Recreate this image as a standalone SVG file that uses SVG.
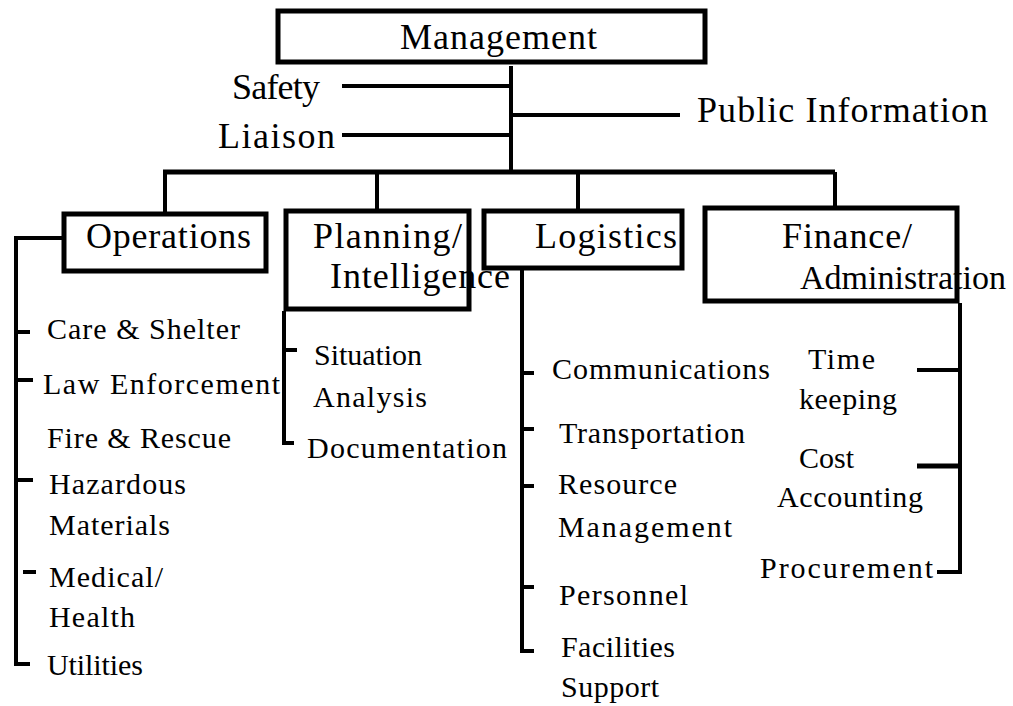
<svg xmlns="http://www.w3.org/2000/svg" width="1013" height="706" viewBox="0 0 1013 706">
<style>
  .box { fill: #fff; stroke: #000; stroke-width: 5; }
  .t1 { font-family: "Liberation Serif", "Times New Roman", serif; font-size: 36px; fill: #000; }
  .t2 { font-family: "Liberation Serif", "Times New Roman", serif; font-size: 30px; fill: #000; }
  .c { fill: none; stroke: #000; stroke-width: 4; stroke-linecap: butt; stroke-linejoin: miter; }
  .bar { fill: none; stroke: #000; stroke-width: 5; }
</style>
<rect width="1013" height="706" fill="#fff"/>
<g id="connectors">
  <path class="c" d="M511 66 V172"/>
  <path class="c" d="M342 86 H511"/>
  <path class="c" d="M342 135 H511"/>
  <path class="c" d="M511 115 H680"/>
  <path class="bar" d="M163 172 H835"/>
  <path class="c" d="M165 172 V212"/>
  <path class="c" d="M377 172 V209"/>
  <path class="c" d="M578 172 V209"/>
  <path class="c" d="M835 172 V206"/>
  <path class="c" d="M62 238 H16 V664 H30"/>
  <path class="c" d="M16 332 H30 M16 380 H33 M16 480 H33 M23 572 H36"/>
  <path class="c" d="M284 311 V443 H294 M284 350 H297"/>
  <path class="c" d="M522 270 V651 H534 M522 373 H534 M522 429 H534 M522 486 H534 M522 587 H534"/>
  <path class="c" d="M960 303 V572 H937 M917 370 H960"/>
  <path class="bar" d="M917 466 H960"/>
</g>
<g id="management">
  <rect class="box" x="278" y="11" width="427" height="51"/>
  <text class="t1" x="400" y="49" textLength="197" lengthAdjust="spacing">Management</text>
</g>
<g id="safety"><text class="t1" x="232" y="99" textLength="88" lengthAdjust="spacing">Safety</text></g>
<g id="liaison"><text class="t1" x="218" y="148" textLength="117" lengthAdjust="spacing">Liaison</text></g>
<g id="public-information"><text class="t1" x="697" y="122" textLength="291" lengthAdjust="spacing">Public Information</text></g>
<g id="operations">
  <rect class="box" x="64" y="214" width="202" height="57"/>
  <text class="t1" x="86" y="248" textLength="165" lengthAdjust="spacing">Operations</text>
</g>
<g id="planning">
  <rect class="box" x="286" y="211" width="183" height="98"/>
  <text class="t1" x="313" y="248" textLength="149" lengthAdjust="spacing">Planning/</text>
  <text class="t1" x="330" y="288" textLength="180" lengthAdjust="spacing">Intelligence</text>
</g>
<g id="logistics">
  <rect class="box" x="484" y="211" width="198" height="57"/>
  <text class="t1" x="535" y="248" textLength="142" lengthAdjust="spacing">Logistics</text>
</g>
<g id="finance">
  <rect class="box" x="705" y="208" width="252" height="93"/>
  <text class="t1" x="782" y="248" textLength="130" lengthAdjust="spacing">Finance/</text>
  <text class="t1" x="800" y="289" style="font-size:34px">Administration</text>
</g>
<g id="care-shelter"><text class="t2" x="47" y="339" textLength="193" lengthAdjust="spacing">Care &amp; Shelter</text></g>
<g id="law-enforcement"><text class="t2" x="43" y="394" textLength="237" lengthAdjust="spacing">Law Enforcement</text></g>
<g id="fire-rescue"><text class="t2" x="47" y="448" textLength="184" lengthAdjust="spacing">Fire &amp; Rescue</text></g>
<g id="hazardous-materials">
  <text class="t2" x="49" y="494" textLength="137" lengthAdjust="spacing">Hazardous</text>
  <text class="t2" x="49" y="535" textLength="121" lengthAdjust="spacing">Materials</text>
</g>
<g id="medical-health">
  <text class="t2" x="49" y="587" textLength="114" lengthAdjust="spacing">Medical/</text>
  <text class="t2" x="49" y="627" textLength="86" lengthAdjust="spacing">Health</text>
</g>
<g id="utilities"><text class="t2" x="47" y="675" textLength="96" lengthAdjust="spacing">Utilities</text></g>
<g id="situation-analysis">
  <text class="t2" x="314" y="365" textLength="108" lengthAdjust="spacing">Situation</text>
  <text class="t2" x="313" y="407" textLength="114" lengthAdjust="spacing">Analysis</text>
</g>
<g id="documentation"><text class="t2" x="307" y="458" textLength="200" lengthAdjust="spacing">Documentation</text></g>
<g id="communications"><text class="t2" x="552" y="379" textLength="218" lengthAdjust="spacing">Communications</text></g>
<g id="transportation"><text class="t2" x="559" y="443" textLength="186" lengthAdjust="spacing">Transportation</text></g>
<g id="resource-management">
  <text class="t2" x="558" y="494" textLength="119" lengthAdjust="spacing">Resource</text>
  <text class="t2" x="558" y="537" textLength="174" lengthAdjust="spacing">Management</text>
</g>
<g id="personnel"><text class="t2" x="559" y="605" textLength="129" lengthAdjust="spacing">Personnel</text></g>
<g id="facilities-support">
  <text class="t2" x="561" y="657" textLength="114" lengthAdjust="spacing">Facilities</text>
  <text class="t2" x="561" y="697" textLength="98" lengthAdjust="spacing">Support</text>
</g>
<g id="time-keeping">
  <text class="t2" x="808" y="369" textLength="67" lengthAdjust="spacing">Time</text>
  <text class="t2" x="799" y="409" textLength="98" lengthAdjust="spacing">keeping</text>
</g>
<g id="cost-accounting">
  <text class="t2" x="799" y="468" textLength="55" lengthAdjust="spacing">Cost</text>
  <text class="t2" x="777" y="507" textLength="146" lengthAdjust="spacing">Accounting</text>
</g>
<g id="procurement"><text class="t2" x="760" y="578" textLength="173" lengthAdjust="spacing">Procurement</text></g>
</svg>
